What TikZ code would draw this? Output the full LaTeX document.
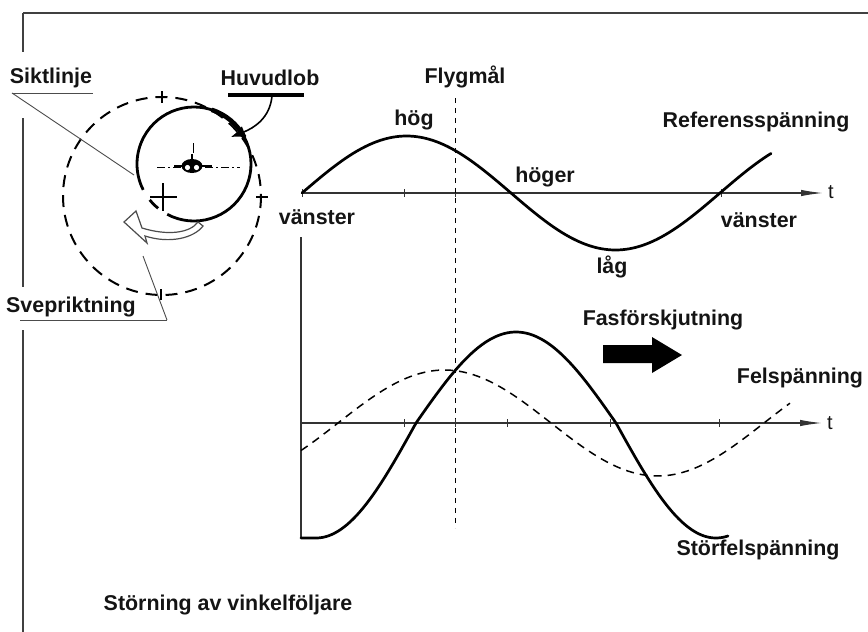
\documentclass[tikz,border=0pt]{standalone}
\usepackage{fontspec}
\setmainfont{Liberation Sans}
\usetikzlibrary{arrows.meta}
\begin{document}
\begin{tikzpicture}[x=0.5pt,y=-0.5pt,
  lbl/.style={font=\fontsize{10.7}{13}\selectfont\bfseries, inner sep=0pt, text=black!92},
  frameline/.style={line width=0.55pt, draw=black!75},
  leader/.style={line width=0.45pt, draw=black!70},
  curve/.style={line width=1.35pt, line cap=round},
  errcurve/.style={line width=0.75pt, dash pattern=on 4pt off 3pt},
  axisline/.style={line width=0.6pt, draw=black!80, -{Latex[length=11pt,width=3.2pt]}},
  tickmark/.style={line width=0.5pt, draw=black!80},
  targetline/.style={line width=0.5pt, dash pattern=on 2.5pt off 2.5pt},
]
\useasboundingbox (0,0) rectangle (868,632);

% ---- frame ----
\draw[frameline] (23,13) -- (868,13);
\draw[frameline] (23,13) -- (23,52);
\draw[frameline] (23,118) -- (23,287);
\draw[frameline] (23,330) -- (23,632);

% ---- scan geometry ----
\coordinate (scan) at (162,196);
\coordinate (lobe) at (194,164);
\draw[line width=1pt, dash pattern=on 6pt off 4pt] (scan) circle[radius=99];
\draw[line width=0.6pt] (162,91) -- (162,103);
\draw[line width=0.6pt] (256,197) -- (268,197);
\draw[line width=0.6pt] (161,289) -- (161,300);

% main lobe circle with its gap
\draw[line width=1.4pt] (lobe) ++(118:57) arc[start angle=118, end angle=-207, radius=57];
\draw[line width=1.4pt] (lobe) ++(141:57) arc[start angle=141, end angle=129, radius=57];
\draw[line width=2.3pt] (lobe) ++(-72:57) arc[start angle=-72, end angle=-28, radius=57];

% boresight cross
\draw[line width=1.2pt] (163,183) -- (163,211);
\draw[line width=1.2pt] (150,197) -- (177,197);

% target aircraft
\draw[line width=0.5pt, dash pattern=on 4pt off 1.5pt on 1pt off 1.5pt] (157,167) -- (240,167);
\draw[line width=0.5pt] (193,143) -- (193,153);
\draw[line width=1.3pt] (174,166) -- (212,166);
\fill (192,166) ellipse[x radius=10.5, y radius=7];
\fill[white] (187.5,167.5) circle[radius=2.6];
\fill[white] (196.5,167.5) circle[radius=2.6];
\draw[line width=1pt] (192,159) -- (192,154);

% sweep direction arrow (hollow)
\draw[line width=0.6pt, draw=black!70, fill=white]
  (198,222) .. controls (190,233) and (168,236) .. (142,228)
  -- (136,211) -- (124,222) -- (147,243) -- (145,236)
  .. controls (170,244) and (194,238) .. (203,226) -- cycle;

% ---- labels of the scan sketch ----
\node[lbl] (sikt) at (51,78) {Siktlinje};
\coordinate (siktA) at (12,93);
\coordinate (siktB) at (93,93);
\coordinate (siktEnd) at (134,175);
\draw[leader] (siktA) -- (siktB);
\draw[leader] (siktA) -- (siktEnd);

\node[lbl] (huvud) at (270,78) {Huvudlob};
\coordinate (huvA) at (228,95);
\coordinate (huvB) at (304,95);
\coordinate (huvStart) at (272,96);
\coordinate (huvEnd) at (231,137);
\draw[line width=1.7pt] (huvA) -- (huvB);
\draw[line width=0.8pt, -{Latex[length=7pt,width=6pt]}]
  (huvStart) .. controls (270,118) and (254,128) .. (huvEnd);

\node[lbl] (svep) at (71,307) {Svepriktning};
\coordinate (svepA) at (20,320);
\coordinate (svepB) at (167,320);
\coordinate (svepEnd) at (143,256);
\draw[leader] (svepA) -- (svepB);
\draw[leader] (svepB) -- (svepEnd);

% ---- reference voltage ----
\coordinate (o1) at (302,193);
\coordinate (t1) at (823,193);
\draw[axisline] (o1) -- (t1);
\node[lbl, font=\fontsize{10}{12}\selectfont] (tlab1) at (831,192) {t};
\foreach \xx in {302,404,455,721} \draw[tickmark] (\xx,189) -- (\xx,197);
\draw[curve] plot[domain=302:771, samples=140] (\x, {193-57*sin((\x-302)/209*180)});

% target line
\coordinate (fmTop) at (455,98);
\coordinate (fmBot) at (455,528);
\draw[targetline] (fmTop) -- (fmBot);
\node[lbl] (flyg) at (465,77) {Flygmål};

\node[lbl] (hog) at (414,120) {hög};
\node[lbl] (hoger) at (545,177) {höger};
\node[lbl] (vanst1) at (317,217) {vänster};
\node[lbl] (vanst2) at (759,220) {vänster};
\node[lbl] (lag) at (612,267) {låg};
\node[lbl] (ref) at (756,122) {Referensspänning};

% ---- error voltages ----
\coordinate (vTop) at (301,237);
\coordinate (vBot) at (301,538);
\draw[line width=0.6pt, draw=black!80] (vTop) -- (vBot);
\coordinate (o2) at (301,423);
\coordinate (t2) at (822,423);
\draw[axisline] (o2) -- (t2);
\node[lbl, font=\fontsize{10}{12}\selectfont] (tlab2) at (830,423) {t};
\foreach \xx in {404,455,507,610,719} \draw[tickmark] (\xx,419) -- (\xx,427);

% disturbed error voltage (solid)
\draw[curve] (vBot) -- (316,538) -- plot[domain=316:728, samples=160]
  (\x, {423 - sin((\x-416)*0.9)*(sin((\x-416)*0.9) > 0 ? 91 : 115)});
% error voltage (dashed)
\draw[errcurve] plot[domain=301:790, samples=140] (\x, {423-53*sin((\x-338)/213*180)});

\node[lbl] (fas) at (663,320) {Fasförskjutning};
\fill (603,345) -- (652,345) -- (652,337) -- (682,355) -- (652,373) -- (652,363) -- (603,363) -- cycle;
\node[lbl] (fel) at (800,378) {Felspänning};
\node[lbl] (storfel) at (758,550) {Störfelspänning};

\node[lbl] (title) at (228,605) {Störning av vinkelföljare};
\end{tikzpicture}
\end{document}
